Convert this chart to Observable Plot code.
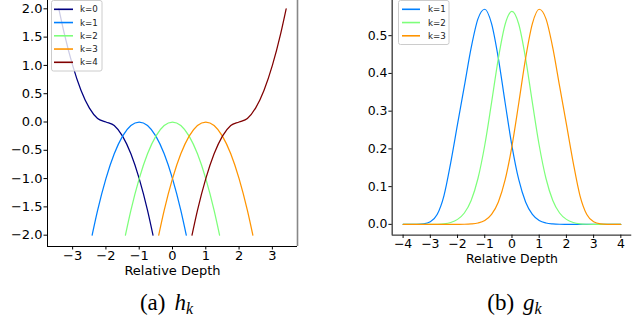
<!DOCTYPE html>
<html>
<head>
<meta charset="utf-8">
<script src="https://cdn.jsdelivr.net/npm/d3@7"></script>
<script src="https://cdn.jsdelivr.net/npm/@observablehq/plot@0.6"></script>
<style>
  html, body { margin: 0; padding: 0; background: #fff; overflow: hidden; }
  #page { position: relative; width: 637px; height: 323px; overflow: hidden; background: #fff; }
  .panel { position: absolute; }
  #overlay { position: absolute; left: 0; top: 0; }
</style>
</head>
<body>
<div id="page"></div>
<script>
// ---------- data ----------
const hLabels = ["k=0", "k=1", "k=2", "k=3", "k=4"];
const hColors = ["#000080", "#0080ff", "#7dff7a", "#ff9400", "#800000"];

const h0x = [-3.414, -3.25, -3, -2.75, -2.5, -2.25, -2, -1.75, -1.5, -1.25, -1, -0.75, -0.586];
const h0y = [2, 1.5625, 1, 0.5625, 0.25, 0.0625, 0, -0.0625, -0.25, -0.5625, -1, -1.5625, -2];
const h1x = [-2.414, -2.25, -2, -1.75, -1.5, -1.25, -1, -0.75, -0.5, -0.25, 0, 0.25, 0.414];
const h1y = [-2, -1.5625, -1, -0.5625, -0.25, -0.0625, 0, -0.0625, -0.25, -0.5625, -1, -1.5625, -2];
const h2x = [-1.414, -1.25, -1, -0.75, -0.5, -0.25, 0, 0.25, 0.5, 0.75, 1, 1.25, 1.414];
const h2y = [-2, -1.5625, -1, -0.5625, -0.25, -0.0625, 0, -0.0625, -0.25, -0.5625, -1, -1.5625, -2];
const h3x = [-0.414, -0.25, 0, 0.25, 0.5, 0.75, 1, 1.25, 1.5, 1.75, 2, 2.25, 2.414];
const h3y = [-2, -1.5625, -1, -0.5625, -0.25, -0.0625, 0, -0.0625, -0.25, -0.5625, -1, -1.5625, -2];
const h4x = [0.586, 0.75, 1, 1.25, 1.5, 1.75, 2, 2.25, 2.5, 2.75, 3, 3.25, 3.414];
const h4y = [-2, -1.5625, -1, -0.5625, -0.25, -0.0625, 0, 0.0625, 0.25, 0.5625, 1, 1.5625, 2];

const gLabels = ["k=1", "k=2", "k=3"];
const gColors = ["#0080ff", "#7dff7a", "#ff9400"];
const gx = [-4, -3.75, -3.5, -3.25, -3, -2.75, -2.5, -2.25, -2, -1.75, -1.5, -1.25, -1, -0.75, -0.5, -0.25, 0,
            0.25, 0.5, 0.75, 1, 1.25, 1.5, 1.75, 2, 2.25, 2.5, 2.75, 3, 3.25, 3.5, 3.75, 4];
const g1 = [0, 0, 0.0002, 0.0013, 0.0067, 0.026, 0.0757, 0.1637, 0.2654, 0.3661, 0.4678, 0.5446, 0.5701, 0.5319, 0.4399, 0.3216, 0.2076,
            0.1183, 0.0595, 0.0265, 0.0104, 0.0037, 0.0012, 0.0003, 0.0001, 0, 0, 0, 0, 0, 0, 0, 0];
const g2 = [0, 0, 0, 0, 0, 0.0003, 0.0014, 0.0049, 0.0132, 0.0301, 0.0633, 0.1215, 0.2097, 0.3226, 0.4399, 0.5302, 0.5642,
            0.5302, 0.4399, 0.3226, 0.2097, 0.1215, 0.0633, 0.0301, 0.0132, 0.0049, 0.0014, 0.0003, 0, 0, 0, 0, 0];
const g3 = [0, 0, 0, 0, 0, 0, 0, 0, 0.0001, 0.0003, 0.0012, 0.0037, 0.0104, 0.0265, 0.0595, 0.1183, 0.2076,
            0.3216, 0.4399, 0.5319, 0.5701, 0.5446, 0.4678, 0.3661, 0.2654, 0.1637, 0.0757, 0.026, 0.0067, 0.0013, 0.0002, 0, 0];

const xTicksL = [-3, -2, -1, 0, 1, 2, 3];
const yTicksL = [-2, -1.5, -1, -0.5, 0, 0.5, 1, 1.5, 2];
const xTicksR = [-4, -3, -2, -1, 0, 1, 2, 3, 4];
const yTicksR = [0, 0.1, 0.2, 0.3, 0.4, 0.5];
const xLabel = "Relative Depth";
const captions = [["(a)", "h", "k"], ["(b)", "g", "k"]];

// ---------- helpers ----------
const minus = s => s.replace(/-/g, "\u2212");
const fmtInt = d => minus(String(d));
const fmt1 = d => minus(d.toFixed(1));
const rows = (xs, ys) => xs.map((x, i) => ({x, y: ys[i]}));
const style = {fontFamily: "DejaVu Sans", fontSize: "13px", color: "#000", background: "none", overflow: "visible"};

const page = document.getElementById("page");

// ---------- left panel ----------
const xDomL = [-3.755, 3.755], yDomL = [-2.2, 2.2];
const hSeries = [[h0x, h0y], [h1x, h1y], [h2x, h2y], [h3x, h3y], [h4x, h4y]];
const left = Plot.plot({
  width: 300, height: 284, marginLeft: 47, marginRight: 3, marginTop: 0, marginBottom: 35,
  x: {domain: xDomL}, y: {domain: yDomL},
  style,
  marks: [
    ...hSeries.map(([xs, ys], i) => Plot.line(rows(xs, ys), {x: "x", y: "y", stroke: hColors[i], strokeWidth: 1.25, curve: "monotone-x"})),
    Plot.ruleX([xDomL[0]], {stroke: "#000", strokeWidth: 1}),
    Plot.ruleX([xDomL[1]], {stroke: "#888", strokeWidth: 1.6}),
    Plot.ruleY([yDomL[0]], {stroke: "#000", strokeWidth: 1}),
    Plot.axisX({ticks: xTicksL, tickFormat: fmtInt, tickSize: 3.5, tickPadding: 0.8, label: null}),
    Plot.axisY({ticks: yTicksL, tickFormat: fmt1, tickSize: 3.5, tickPadding: 1.5, label: null}),
    Plot.text([xLabel], {frameAnchor: "bottom", dy: 19.5, lineAnchor: "top", fontSize: 13})
  ]
});
const wl = document.createElement("div");
wl.className = "panel"; wl.style.left = "0px"; wl.style.top = "-3px";
wl.appendChild(left); page.appendChild(wl);

// ---------- right panel ----------
const xDomR = [-4.4, 4.4], yDomR = [-0.0285, 0.5986];
const gSeries = [g1, g2, g3];
const right = Plot.plot({
  width: 310, height: 282, marginLeft: 54, marginRight: 6, marginTop: 0, marginBottom: 35,
  x: {domain: xDomR}, y: {domain: yDomR},
  style,
  marks: [
    ...gSeries.map((ys, i) => Plot.line(rows(gx, ys), {x: "x", y: "y", stroke: gColors[i], strokeWidth: 1.25, curve: "monotone-x"})),
    Plot.ruleX([xDomR[0]], {stroke: "#555", strokeWidth: 1.6}),
    Plot.ruleY([yDomR[0]], {stroke: "#000", strokeWidth: 1}),
    Plot.axisX({ticks: xTicksR, tickFormat: fmtInt, tickSize: 3.5, tickPadding: 0.8, label: null}),
    Plot.axisY({ticks: yTicksR, tickFormat: fmt1, tickSize: 3.5, tickPadding: 1.5, label: null}),
    Plot.text([xLabel], {frameAnchor: "bottom", dy: 20, lineAnchor: "top", fontSize: 13})
  ]
});
const wr = document.createElement("div");
wr.className = "panel"; wr.style.left = "340px"; wr.style.top = "-2px";
wr.appendChild(right); page.appendChild(wr);

// ---------- overlay: legends and captions ----------
const svg = d3.select(page).append("svg").attr("id", "overlay").attr("width", 637).attr("height", 323);

function legend(x0, x1, labels, colors, lineX0, lineX1, textX) {
  const y0 = 0.5, step = 13.25, first = 9.3;
  const h = first + step * (labels.length - 1) + 8.7 - y0;
  svg.append("rect").attr("x", x0).attr("y", y0).attr("width", x1 - x0).attr("height", h)
    .attr("rx", 2).attr("fill", "rgba(255,255,255,0.8)").attr("stroke", "#cccccc").attr("stroke-width", 1);
  labels.forEach((lab, i) => {
    const y = first + step * i;
    svg.append("line").attr("x1", lineX0).attr("x2", lineX1).attr("y1", y).attr("y2", y)
      .attr("stroke", colors[i]).attr("stroke-width", 1.6);
    svg.append("text").attr("x", textX).attr("y", y).attr("dy", "0.35em")
      .attr("font-family", "DejaVu Sans").attr("font-size", 8.7).attr("fill", "#222").text(lab);
  });
}
legend(51.5, 102, hLabels, hColors, 54, 73, 80);
legend(398.5, 449, gLabels, gColors, 402, 420, 428);

[[166.5, captions[0]], [514.5, captions[1]]].forEach(([cx, [pre, sym, sub]]) => {
  const t = svg.append("text").attr("x", cx).attr("y", 310).attr("text-anchor", "middle")
    .attr("font-family", "Liberation Serif").attr("font-size", 23).attr("fill", "#000");
  t.append("tspan").text(pre);
  t.append("tspan").attr("dx", 9).attr("font-style", "italic").text(sym);
  t.append("tspan").attr("dy", 4).attr("font-style", "italic").attr("font-size", 16).text(sub);
});
</script>
</body>
</html>
